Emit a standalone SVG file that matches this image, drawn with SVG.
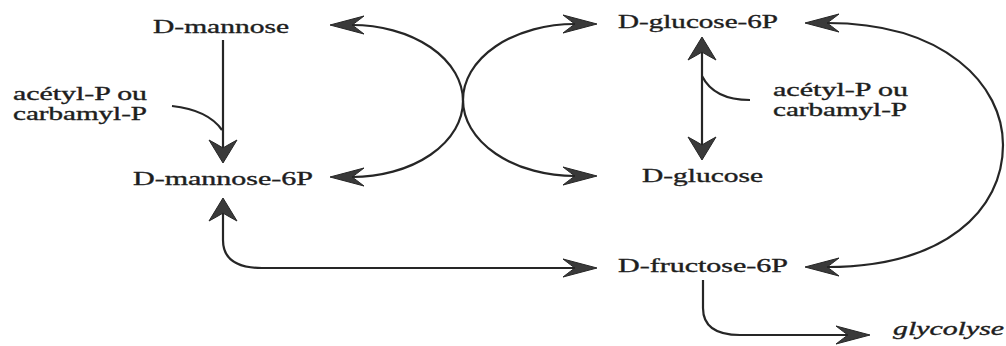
<svg xmlns="http://www.w3.org/2000/svg" width="1006" height="346" viewBox="0 0 1006 346">
<style>
.c{fill:none;stroke:#262626;stroke-width:2.2}
.h{fill:#3a3a3a;stroke:#262626;stroke-width:1}
</style>
<defs>
<marker id="ah" viewBox="-37 -11 39 22" refX="-22" refY="0" markerWidth="39" markerHeight="22" markerUnits="userSpaceOnUse" orient="auto-start-reverse">
<path class="h" d="M0,0 L-34,-9 Q-25,-2 -22,0 Q-25,2 -34,9 Z"/>
</marker>
<marker id="av" viewBox="-25 -17 27 34" refX="-15" refY="0" markerWidth="27" markerHeight="34" markerUnits="userSpaceOnUse" orient="auto-start-reverse">
<path class="h" d="M0,0 L-23,-14 Q-17,-3 -15,0 Q-17,3 -23,14 Z"/>
</marker>
</defs>
<rect width="1006" height="346" fill="#fff"/>
<g id="connectors">
<path class="c" d="M223,40 L223,148" marker-end="url(#av)"/>
<path class="c" d="M172,106 Q208,110 222,130"/>
<path class="c" d="M352,25 A111,76 0 0 1 352,177" marker-start="url(#ah)" marker-end="url(#ah)"/>
<path class="c" d="M575,24 A112,76 0 0 0 575,176" marker-start="url(#ah)" marker-end="url(#ah)"/>
<path class="c" d="M702,52 L702,145" marker-start="url(#av)" marker-end="url(#av)"/>
<path class="c" d="M750,100 Q714,100 702,76"/>
<path class="c" d="M827,23 C945,23 1003,85 1003,145 C1003,210 945,267 827,267" marker-start="url(#ah)" marker-end="url(#ah)"/>
<path class="c" d="M223,213 L223,240 Q223,268 262,268 L575,268" marker-start="url(#av)" marker-end="url(#ah)"/>
<path class="c" d="M703,280 L703,308 Q703,335 740,335 L848,335" marker-end="url(#ah)"/>
</g>
<g font-family="'Liberation Serif', 'Times New Roman', serif" font-size="18" fill="#1e1e1e" stroke="#1e1e1e" stroke-width="0.35">
<g id="n-mannose"><text x="153" y="33" textLength="136" lengthAdjust="spacingAndGlyphs">D-mannose</text></g>
<g id="n-glucose6p"><text x="618" y="28" textLength="160" lengthAdjust="spacingAndGlyphs">D-glucose-6P</text></g>
<g id="n-mannose6p"><text x="133" y="185" textLength="180" lengthAdjust="spacingAndGlyphs">D-mannose-6P</text></g>
<g id="n-glucose"><text x="642" y="182" textLength="121" lengthAdjust="spacingAndGlyphs">D-glucose</text></g>
<g id="n-fructose6p"><text x="618" y="272" textLength="170" lengthAdjust="spacingAndGlyphs">D-fructose-6P</text></g>
<g id="n-glycolyse"><text font-style="italic" x="893" y="335" textLength="111" lengthAdjust="spacingAndGlyphs">glycolyse</text></g>
<g id="n-donor-left">
<text x="13" y="100" textLength="134" lengthAdjust="spacingAndGlyphs">acétyl-P ou</text>
<text x="13" y="120" textLength="134" lengthAdjust="spacingAndGlyphs">carbamyl-P</text>
</g>
<g id="n-donor-right">
<text x="773" y="96" textLength="135" lengthAdjust="spacingAndGlyphs">acétyl-P ou</text>
<text x="773" y="116" textLength="134" lengthAdjust="spacingAndGlyphs">carbamyl-P</text>
</g>
</g>
</svg>
